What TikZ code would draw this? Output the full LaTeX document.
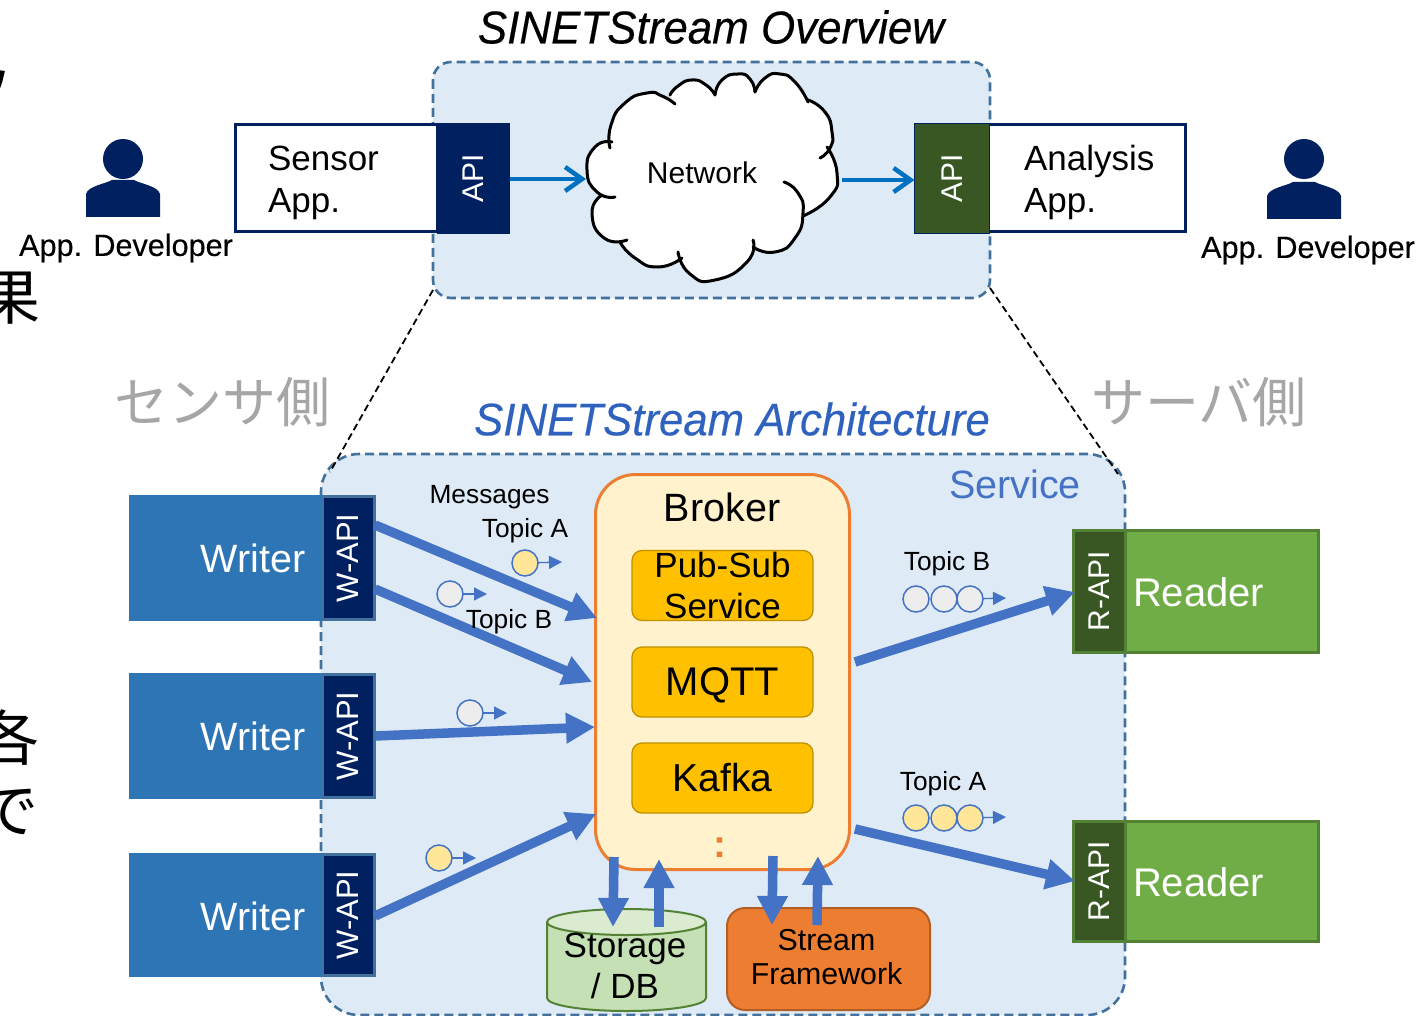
\documentclass[tikz,border=0pt]{standalone}
\usepackage{fontspec}
\usepackage{graphicx}
\setmainfont{Liberation Sans}
\newfontfamily\cjkfont{Noto Sans CJK JP}
\newfontfamily\heavyfont[FakeBold=0.35,ItalicFeatures={FakeBold=0.35}]{Liberation Sans}
\usetikzlibrary{arrows.meta}
\definecolor{panelblue}{HTML}{DEEAF6}
\definecolor{paneledge}{HTML}{41719C}
\definecolor{navyc}{HTML}{002060}
\definecolor{arrowblue}{HTML}{4472C4}
\definecolor{netblue}{HTML}{0070C0}
\definecolor{writerblue}{HTML}{2E75B6}
\definecolor{readergreen}{HTML}{70AD47}
\definecolor{readeredge}{HTML}{548235}
\definecolor{darkgreen}{HTML}{385723}
\definecolor{brokerfill}{HTML}{FFF2CC}
\definecolor{orangec}{HTML}{ED7D31}
\definecolor{goldc}{HTML}{FFC000}
\definecolor{goldedge}{HTML}{BF9000}
\definecolor{dbfill}{HTML}{C5E0B4}
\definecolor{dbtop}{HTML}{DAEBD0}
\definecolor{msgyellow}{HTML}{FFE699}
\definecolor{msggrey}{HTML}{EDEDED}
\definecolor{sidegrey}{HTML}{A6A6A6}
\definecolor{archblue}{HTML}{2F62BE}
\newcommand\fsz[2]{\fontsize{#1}{#2}\selectfont}
\tikzset{
  x=1pt,y=-1pt,
  every node/.style={inner sep=0pt,outer sep=0pt},
  panelbox/.style={draw=paneledge,fill=panelblue,line width=2.6pt,dash pattern=on 9pt off 5pt,rounded corners=#1},
  zoomline/.style={draw=black,line width=1.8pt,dash pattern=on 7pt off 4pt},
  appbox/.style={draw=navyc,fill=white,line width=3pt},
  apibox/.style={fill=navyc,text=white,font=\fsz{30}{30},minimum width=73pt,minimum height=111pt},
  apigreen/.style={fill=darkgreen,draw=navyc,line width=1pt,text=white,font=\fsz{30}{30},minimum width=75pt,minimum height=110pt},
  writerbox/.style={fill=writerblue,text=white,font=\fsz{39}{39},minimum width=192pt,minimum height=126pt},
  wapibox/.style={fill=navyc,draw=paneledge,line width=3pt,text=white,font=\fsz{31}{31},minimum width=52pt,minimum height=123pt},
  readerbox/.style={fill=readergreen,draw=readeredge,line width=3pt,minimum width=244pt,minimum height=122pt},
  rapibox/.style={fill=darkgreen,draw=readeredge,line width=3pt,text=white,font=\fsz{30}{30},minimum width=52pt,minimum height=122pt},
  brokerbox/.style={fill=brokerfill,draw=orangec,line width=3pt,rounded corners=40pt,minimum width=254pt,minimum height=395pt},
  goldbox/.style={fill=goldc,draw=goldedge,line width=1.3pt,rounded corners=10pt,minimum width=181pt,minimum height=70pt,align=center},
  sfbox/.style={fill=orangec,draw=orangec!75!black,line width=2pt,rounded corners=18pt,minimum width=203pt,minimum height=102pt},
  flow/.style={draw=arrowblue,line width=9.5pt,-{Triangle[length=29pt,width=29pt]}},
  netflow/.style={draw=netblue,line width=4.5pt,-{Straight Barb[length=17pt,width=24pt,line width=4.5pt]}},
  msgy/.style={circle,fill=msgyellow,draw=arrowblue,line width=1.5pt,minimum size=26pt},
  msgg/.style={circle,fill=msggrey,draw=arrowblue,line width=1.5pt,minimum size=26pt},
  msgflow/.style={draw=arrowblue,line width=1.3pt,-{Triangle[length=13pt,width=13pt]}},
  lab/.style={font=\fsz{26.3}{26},text=black},
  cloudline/.style={draw=black,line width=3pt,line cap=round},
  clipped/.style={font=\cjkfont\fsz{60}{60},text=black},
}
\begin{document}
\begin{tikzpicture}
\useasboundingbox (0,0) rectangle (1418,1016);
% cropped text at the left edge
\begin{scope}
\clip (0,0) rectangle (1418,1016);
\node[clipped] (c1) at (-15,93) {ソ};
\node[clipped] (c2) at (11,298) {果};
\node[clipped] (c3) at (10,738) {各};
\node[clipped] (c4) at (9,812) {で};
\end{scope}
% panels
\path[panelbox=18pt] (433,62) rectangle (990,298);
\path[panelbox=38pt] (321,454) rectangle (1125,1015);
\coordinate (ovl) at (433,290);
\coordinate (ovr) at (990,288);
\coordinate (arl) at (330,472);
\coordinate (arr) at (1118,474);
\draw[zoomline] (ovl) -- (arl);
\draw[zoomline] (ovr) -- (arr);
% titles
\node[font=\heavyfont\itshape\fsz{46}{46}] (title) at (711,27) {\scalebox{.955}[1]{SINETStream Overview}};
\node[font=\heavyfont\itshape\fsz{45.6}{46},text=archblue] (arch) at (732,419) {\scalebox{.96}[1]{SINETStream Architecture}};
\node[font=\fsz{39.5}{39},text=arrowblue] (service) at (1015,484) {Service};
\node[font=\cjkfont\fsz{54}{54},text=sidegrey] (sside) at (222,402) {センサ側};
\node[font=\cjkfont\fsz{54}{54},text=sidegrey] (rside) at (1199,402) {サーバ側};
% top row
\node[appbox,minimum width=202pt,minimum height=107pt] (sensor) at (336.5,178.5) {};
\node[font=\fsz{35}{42},align=left,anchor=west] (sensort) at (268,182.5) {Sensor\\App.};
\node[apibox] (api1) at (473.5,178.5) {\rotatebox{90}{API}};
\node[appbox,minimum width=270pt,minimum height=107pt] (analysis) at (1050,178.5) {};
\node[font=\fsz{35}{42},align=left,anchor=west] (analysist) at (1024,182.5) {Analysis\\App.};
\node[apigreen] (api2) at (952,178.5) {\rotatebox{90}{API}};
% cloud
\fill[white] plot[smooth,tension=1] coordinates {(610,148) (611,125) (625,103) (647,93) (662,96) (675,104)}
 -- plot[smooth,tension=1] coordinates {(670,95) (678,86) (692,80) (706,85) (715,95)}
 -- plot[smooth,tension=1] coordinates {(715,95) (722,80) (738,74) (750,79) (755,92)}
 -- plot[smooth,tension=1] coordinates {(755,92) (765,78) (780,74) (795,82) (808,102)}
 -- plot[smooth,tension=1] coordinates {(808,100) (825,112) (832,132) (830,148) (820,158)}
 -- plot[smooth,tension=1] coordinates {(827,147) (837,173) (830,197) (803,216)}
 -- plot[smooth,tension=1] coordinates {(803,213) (795,238) (775,252) (753,247)}
 -- plot[smooth,tension=1] coordinates {(753,240) (747,262) (715,280) (690,274) (678,252)}
 -- plot[smooth,tension=1] coordinates {(682,258) (658,267) (635,258) (620,242)}
 -- plot[smooth,tension=1] coordinates {(627,240) (604,238) (592,213) (602,195)}
 -- plot[smooth,tension=1] coordinates {(615,197) (597,192) (587,170) (595,147) (612,142)} -- cycle;
\draw[cloudline] plot[smooth,tension=1] coordinates {(610,148) (611,125) (625,103) (647,93) (662,96) (675,104)};
\draw[cloudline] plot[smooth,tension=1] coordinates {(670,95) (678,86) (692,80) (706,85) (715,95)};
\draw[cloudline] plot[smooth,tension=1] coordinates {(715,95) (722,80) (738,74) (750,79) (755,92)};
\draw[cloudline] plot[smooth,tension=1] coordinates {(755,92) (765,78) (780,74) (795,82) (808,102)};
\draw[cloudline] plot[smooth,tension=1] coordinates {(808,100) (825,112) (832,132) (830,148) (820,158)};
\draw[cloudline] plot[smooth,tension=1] coordinates {(827,147) (837,173) (830,197) (803,216)};
\draw[cloudline] plot[smooth,tension=1] coordinates {(784,182) (798,193) (803,213) (795,238) (775,252) (753,247)};
\draw[cloudline] plot[smooth,tension=1] coordinates {(753,240) (747,262) (715,280) (690,274) (678,252)};
\draw[cloudline] plot[smooth,tension=1] coordinates {(682,258) (658,267) (635,258) (620,242)};
\draw[cloudline] plot[smooth,tension=1] coordinates {(627,240) (604,238) (592,213) (602,195)};
\draw[cloudline] plot[smooth,tension=1] coordinates {(615,197) (597,192) (587,170) (595,147) (612,142)};
\node[font=\fsz{30}{30}] (net) at (702,173) {Network};
\coordinate (netin) at (586,179);
\coordinate (netout) at (842,180);
\draw[netflow] (api1.east |- netin) -- (netin);
\draw[netflow] (netout) -- (api2.west |- netout);
% developers
\fill[navyc] (123,159) circle (20);
\fill[navyc] (86,217) -- (86,194) .. controls (88,186) and (105,184) .. (112,180) -- (134,180) .. controls (141,184) and (158,186) .. (160,194) -- (160,217) -- cycle;
\node[font=\heavyfont\fsz{30.6}{31}] (dev1) at (126,248) {App. Developer};
\fill[navyc] (1304,159) circle (20);
\fill[navyc] (1267,219) -- (1267,196) .. controls (1269,188) and (1286,186) .. (1293,182) -- (1315,182) .. controls (1322,186) and (1339,188) .. (1341,196) -- (1341,219) -- cycle;
\node[font=\heavyfont\fsz{30.6}{31}] (dev2) at (1308,250) {App. Developer};
% writers
\node[writerbox] (w1) at (225,558) {};
\node[wapibox] (wa1) at (348,558) {\rotatebox{90}{W-API}};
\node[font=\fsz{39.5}{39},text=white] (wt1) at (253,558) {Writer};
\node[writerbox] (w2) at (225,736) {};
\node[wapibox] (wa2) at (348,736) {\rotatebox{90}{W-API}};
\node[font=\fsz{39.5}{39},text=white] (wt2) at (253,736) {Writer};
\node[writerbox,minimum height=124pt] (w3) at (225,915) {};
\node[wapibox,minimum height=121pt] (wa3) at (348,915) {\rotatebox{90}{W-API}};
\node[font=\fsz{39.5}{39},text=white] (wt3) at (253,916) {Writer};
% readers
\node[readerbox] (r1) at (1196.5,591) {};
\node[rapibox] (ra1) at (1099.5,591) {\rotatebox{90}{R-API}};
\node[font=\fsz{40}{40},anchor=west,text=white] (rt1) at (1133,592) {Reader};
\node[readerbox,minimum height=120pt] (r2) at (1196.5,881) {};
\node[rapibox,minimum height=120pt] (ra2) at (1099.5,881) {\rotatebox{90}{R-API}};
\node[font=\fsz{40}{40},anchor=west,text=white] (rt2) at (1133,882) {Reader};
% broker
\node[brokerbox] (broker) at (722.5,672) {};
\node[font=\fsz{39.5}{39}] (brokert) at (722,507) {Broker};
\node[goldbox,font=\fsz{35}{41}] (pub) at (722.5,585.5) {Pub-Sub\\Service};
\node[goldbox] (mqtt) at (722.5,682) {};
\node[font=\fsz{40}{40}] (mqttt) at (722.5,685) {MQTT};
\node[goldbox,font=\fsz{39}{39}] (kafka) at (722.5,778) {Kafka};
\node[font=\bfseries\fsz{39}{39},text=orangec] (dots) at (720,848) {:};
% storage
\fill[dbfill] (547,922) -- (547,998) arc[start angle=180,delta angle=-180,x radius=79.5,y radius=13] -- (706,922) -- cycle;
\draw[readeredge,line width=2pt] (547,922) -- (547,998) arc[start angle=180,delta angle=-180,x radius=79.5,y radius=13] -- (706,922);
\draw[readeredge,fill=dbtop,line width=2pt] (626.5,922) ellipse[x radius=79.5,y radius=13];
% stream framework
\node[sfbox] (sf) at (828.5,959) {};
\node[font=\fsz{30.3}{34},align=center] (sft) at (826.5,957) {Stream\\Framework};
% flows
\coordinate (w1o) at (375,525); \coordinate (b1i) at (597,618);
\coordinate (w2o) at (375,589); \coordinate (b2i) at (592,682);
\coordinate (w3o) at (375,736); \coordinate (b3i) at (595,727);
\coordinate (w4o) at (375,916); \coordinate (b4i) at (596,814);
\coordinate (b5o) at (855,662); \coordinate (r1i) at (1075,592);
\coordinate (b6o) at (855,829); \coordinate (r2i) at (1075,881);
\coordinate (s1o) at (614,857); \coordinate (s1i) at (613,927);
\coordinate (s2o) at (659,927); \coordinate (s2i) at (659,859);
\coordinate (f1o) at (773,856); \coordinate (f1i) at (772,925);
\coordinate (f2o) at (817,925); \coordinate (f2i) at (818,856);
\foreach \a/\b in {w1o/b1i,w2o/b2i,w3o/b3i,w4o/b4i,b5o/r1i,b6o/r2i,s1o/s1i,s2o/s2i,f1o/f1i,f2o/f2i}
  \draw[flow] (\a) -- (\b);
\node[font=\fsz{35}{41},align=center] (db) at (625,966) {Storage\\/ DB};
% messages
\node[lab] (msgs) at (489.5,497) {Messages};
\node[lab] (ta1) at (525,531) {Topic A};
\node[lab] (tb1) at (509,622) {Topic B};
\node[lab] (tb2) at (947,564) {Topic B};
\node[lab] (ta2) at (943,784) {Topic A};
\node[msgy] (m1) at (525,563) {}; \coordinate (m1t) at (562,562);
\node[msgg] (m2) at (450,594) {}; \coordinate (m2t) at (487,594);
\node[msgg] (m3) at (470,713) {}; \coordinate (m3t) at (507,713);
\node[msgy] (m4) at (439,858) {}; \coordinate (m4t) at (476,858);
\node[msgg] (m5) at (916,599) {};
\node[msgg] (m6) at (944,599) {};
\node[msgg] (m7) at (970,599) {}; \coordinate (m7t) at (1006,598);
\node[msgy] (m8) at (916,818) {};
\node[msgy] (m9) at (944,818) {};
\node[msgy] (m10) at (970,818) {}; \coordinate (m10t) at (1006,817);
\foreach \a/\b in {m1/m1t,m2/m2t,m3/m3t,m4/m4t,m7/m7t,m10/m10t}
  \draw[msgflow] (\a) -- (\b);
\end{tikzpicture}
\end{document}
